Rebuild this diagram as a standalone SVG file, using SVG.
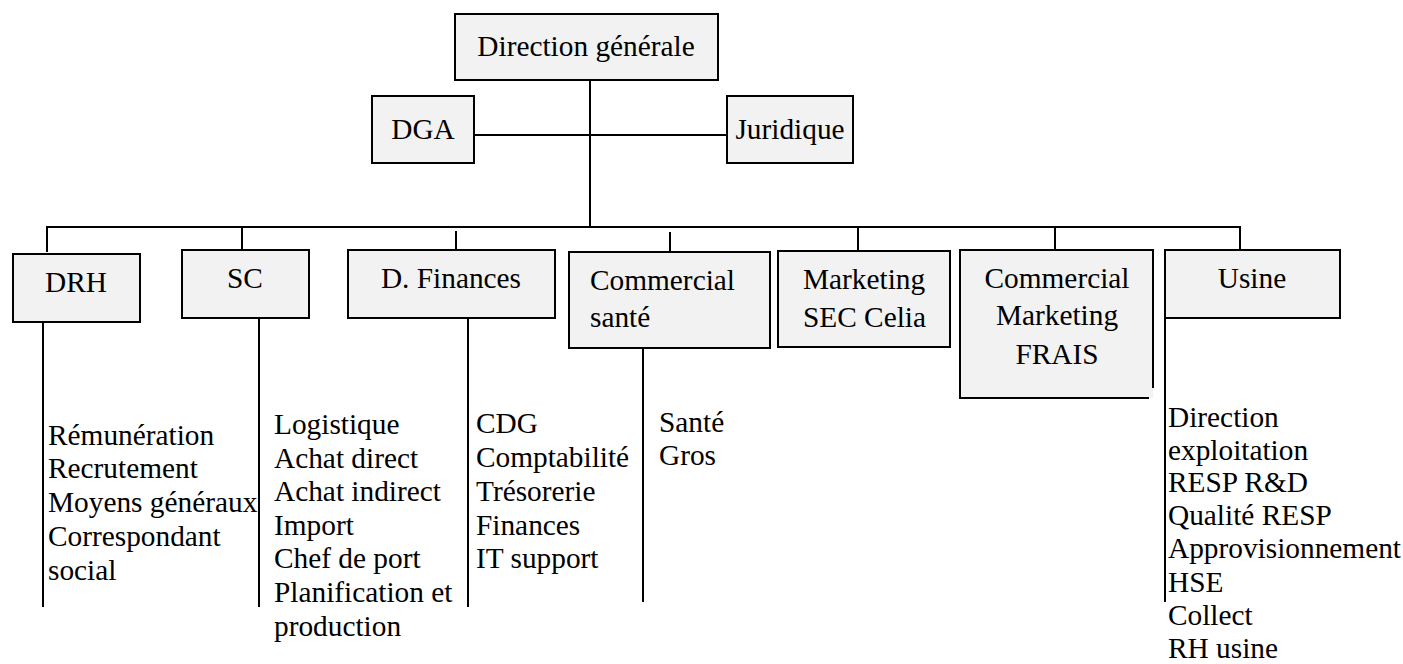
<svg xmlns="http://www.w3.org/2000/svg" width="1403" height="664" viewBox="0 0 1403 664">
<style>
.box{fill:#f2f2f2;stroke:#000;stroke-width:2}
.edge{fill:none;stroke:#000;stroke-width:2}
text{font-family:"Liberation Serif","Times New Roman",serif;font-size:29.33px;fill:#000}
.c{text-anchor:middle}
</style>
<rect width="1403" height="664" fill="#fff"/>
<g id="connectors">
<line class="edge" x1="590" y1="80" x2="590" y2="227"/>
<line class="edge" x1="474" y1="135" x2="727" y2="135"/>
<line class="edge" x1="46" y1="227" x2="1241" y2="227"/>
<line class="edge" x1="47" y1="226" x2="47" y2="252"/>
<line class="edge" x1="242" y1="226" x2="242" y2="250"/>
<line class="edge" x1="456" y1="231" x2="456" y2="255"/>
<line class="edge" x1="670" y1="232" x2="670" y2="253"/>
<line class="edge" x1="858" y1="226" x2="858" y2="251"/>
<line class="edge" x1="1055" y1="226" x2="1055" y2="250"/>
<line class="edge" x1="1240" y1="226" x2="1240" y2="250"/>
<line class="edge" x1="43" y1="323" x2="43" y2="607"/>
<line class="edge" x1="259" y1="318" x2="259" y2="607"/>
<line class="edge" x1="468" y1="318" x2="468" y2="607"/>
<line class="edge" x1="643" y1="348" x2="643" y2="602"/>
<line class="edge" x1="1165" y1="318" x2="1165" y2="602"/>
</g>
<g id="n-dg"><rect class="box" x="455" y="14" width="263" height="66"/><text class="c" x="586" y="56">Direction générale</text></g>
<g id="n-dga"><rect class="box" x="372" y="96" width="102" height="67"/><text class="c" x="423" y="139">DGA</text></g>
<g id="n-juridique"><rect class="box" x="727" y="96" width="126" height="67"/><text class="c" x="790" y="139">Juridique</text></g>
<g id="n-drh"><rect class="box" x="13" y="254" width="127" height="68"/><text class="c" x="76" y="292">DRH</text></g>
<g id="n-sc"><rect class="box" x="182" y="250" width="127" height="68"/><text class="c" x="245" y="288">SC</text></g>
<g id="n-dfin"><rect class="box" x="348" y="250" width="207" height="68"/><text class="c" x="451" y="288">D. Finances</text></g>
<g id="n-comsante"><rect class="box" x="569" y="252" width="201" height="96"/><text x="590" y="290">Commercial</text><text x="590" y="327">santé</text></g>
<g id="n-marketing"><rect class="box" x="778" y="251" width="172" height="96"/><text x="803" y="289">Marketing</text><text x="803" y="327">SEC Celia</text></g>
<g id="n-frais"><rect x="960" y="250" width="193" height="148" fill="#f2f2f2"/><path class="edge" d="M1149,398 H960 V250 H1153 V388"/><text class="c" x="1057" y="288">Commercial</text><text class="c" x="1057" y="325">Marketing</text><text class="c" x="1057" y="364">FRAIS</text></g>
<g id="n-usine"><rect class="box" x="1165" y="250" width="175" height="68"/><text class="c" x="1252" y="288">Usine</text></g>
<g id="l-drh"><text x="48" y="445">Rémunération</text><text x="48" y="478">Recrutement</text><text x="48" y="512">Moyens généraux</text><text x="48" y="546">Correspondant</text><text x="48" y="580">social</text></g>
<g id="l-sc"><text x="274" y="434">Logistique</text><text x="274" y="468">Achat direct</text><text x="274" y="501">Achat indirect</text><text x="274" y="535">Import</text><text x="274" y="568">Chef de port</text><text x="274" y="602">Planification et</text><text x="274" y="636">production</text></g>
<g id="l-dfin"><text x="476" y="433">CDG</text><text x="476" y="467">Comptabilité</text><text x="476" y="501">Trésorerie</text><text x="476" y="535">Finances</text><text x="476" y="568">IT support</text></g>
<g id="l-comsante"><text x="659" y="432">Santé</text><text x="659" y="465">Gros</text></g>
<g id="l-usine"><text x="1168" y="427">Direction</text><text x="1168" y="460">exploitation</text><text x="1168" y="492">RESP R&amp;D</text><text x="1168" y="525">Qualité RESP</text><text x="1168" y="558">Approvisionnement</text><text x="1168" y="592">HSE</text><text x="1168" y="625">Collect</text><text x="1168" y="658">RH usine</text></g>
</svg>
